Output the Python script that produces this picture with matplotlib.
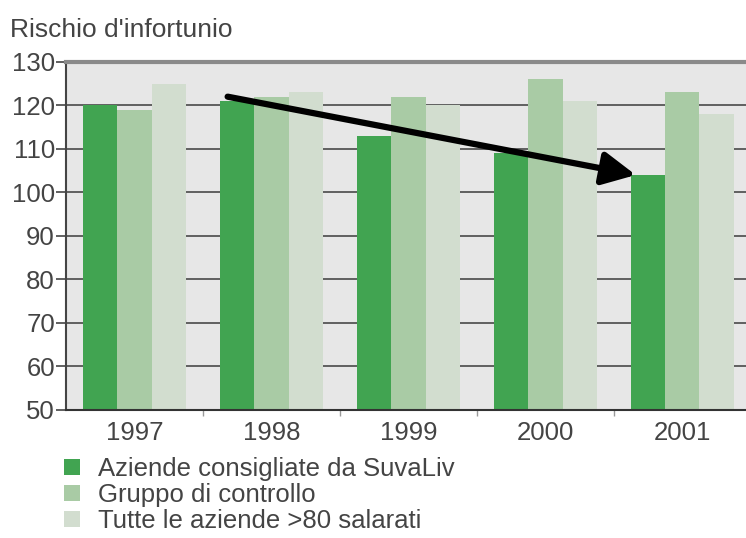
import numpy as np
import matplotlib.pyplot as plt

# data
anni = ["1997", "1998", "1999", "2000", "2001"]
suvaliv = [120, 121, 113, 109, 104]
controllo = [119, 122, 122, 126, 123]
tutte = [125, 123, 120, 121, 118]
serie = ["Aziende consigliate da SuvaLiv", "Gruppo di controllo",
         "Tutte le aziende >80 salarati"]
colori = ["#41a451", "#a9cba5", "#d2ddcf"]

plt.rcParams['font.family'] = ['Liberation Sans', 'DejaVu Sans']

fig = plt.figure(figsize=(7.46, 5.38), dpi=100)
ax = fig.add_axes([0.0885, 0.238, 0.918, 0.647])
ax.set_facecolor("#e7e7e7")

x = np.arange(len(anni))
w = 0.25
for i, vals in enumerate([suvaliv, controllo, tutte]):
    ax.bar(x + (i - 1) * w, vals, width=w, color=colori[i],
           label=serie[i], zorder=2)

ax.set_xlim(-0.5, 4.5)
ax.set_ylim(50, 130)
ax.set_yticks(range(50, 131, 10))
ax.set_xticks(x)
ax.set_xticklabels(anni)
ax.set_xticks(x[:-1] + 0.5, minor=True)

# grid behind bars
ax.yaxis.grid(True, color="#555555", linewidth=1.3, zorder=1)
ax.set_axisbelow(True)

ax.spines["right"].set_visible(False)
ax.spines["top"].set_color("#8a8a8a")
ax.spines["top"].set_linewidth(3)
ax.spines["left"].set_color("#444444")
ax.spines["left"].set_linewidth(1.5)
ax.spines["bottom"].set_color("#333333")
ax.spines["bottom"].set_linewidth(1.5)

ax.tick_params(axis="y", direction="out", length=7, width=1.2, color="#444444",
               labelsize=18.5, labelcolor="#444444", pad=1)
ax.tick_params(axis="x", which="major", length=0, labelsize=18.5,
               labelcolor="#444444", pad=8)
ax.tick_params(axis="x", which="minor", length=4, width=1, color="#999999")

# trend arrow
ax.annotate("", xy=(3.66, 104.0), xytext=(0.68, 122),
            arrowprops=dict(arrowstyle="-|>,head_length=1.0,head_width=0.5",
                            mutation_scale=20, color="black", lw=4.5,
                            shrinkA=0, shrinkB=0),
            zorder=5)

fig.text(0.013, 0.944, "Rischio d'infortunio", fontsize=19, color="#444444",
         va="center", ha="left")

leg = fig.legend(loc="upper left", bbox_to_anchor=(0.086, 0.151), frameon=False,
                 fontsize=18.5, handlelength=0.6, handleheight=0.6,
                 handletextpad=0.7, labelspacing=0.08, borderaxespad=0,
                 borderpad=0, labelcolor="#444444")

fig.savefig("out.png", dpi=100)
